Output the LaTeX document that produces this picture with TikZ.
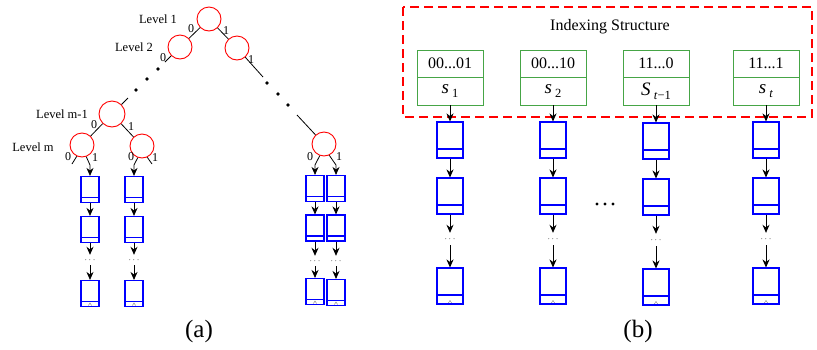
\documentclass[tikz,border=0pt]{standalone}
\usepackage{fontspec}
\setmainfont{Liberation Serif}
\usetikzlibrary{arrows.meta,positioning}
\definecolor{keygreen}{RGB}{70,165,70}
\newcommand{\slot}[2]{\textit{#1}\,\raisebox{-0.45ex}{\fontsize{12.5}{12}\selectfont #2}}
\tikzset{
  trienode/.style={circle,draw=red,line width=0.9pt,minimum size=24pt,inner sep=0pt},
  levellabel/.style={inner sep=0pt,font=\fontsize{12.5}{14}\selectfont},
  bitlabel/.style={inner sep=0pt,font=\fontsize{12}{13}\selectfont},
  treeedge/.style={line width=0.8pt},
  arr/.style={line width=0.8pt,-{Stealth[length=8pt,width=7pt]}},
  boxdiv/.style={path picture={\draw[blue,line width=1.1pt]
      ([yshift=#1]path picture bounding box.south west) -- ([yshift=#1]path picture bounding box.south east);}},
  boxnull/.style={path picture={\draw[blue,line width=1.1pt]
      ([yshift=#1]path picture bounding box.south west) -- ([yshift=#1]path picture bounding box.south east);
      \draw[gray,line width=0.4pt] ([shift={(-1.6pt,1pt)}]path picture bounding box.south)
      -- ([shift={(0pt,3.6pt)}]path picture bounding box.south) -- ([shift={(1.6pt,1pt)}]path picture bounding box.south);}},
  smallbox/.style={draw=blue,line width=1.1pt,minimum width=18pt,minimum height=26pt,inner sep=0pt,boxdiv=5pt},
  smallnull/.style={draw=blue,line width=1.1pt,minimum width=18pt,minimum height=26pt,inner sep=0pt,boxnull=5pt},
  bigbox/.style={draw=blue,line width=1.1pt,minimum width=26pt,minimum height=36pt,inner sep=0pt,boxdiv=9pt},
  bignull/.style={draw=blue,line width=1.1pt,minimum width=26pt,minimum height=36pt,inner sep=0pt,boxnull=9pt},
  dotsnode/.style={inner sep=0pt,minimum height=#1,font=\small},
  keybox/.style={draw=keygreen,line width=1pt,minimum width=66pt,minimum height=27pt,inner sep=0pt,outer sep=0pt,
      font=\fontsize{16}{18}\selectfont},
  valbox/.style={draw=keygreen,line width=1pt,minimum width=66pt,minimum height=28pt,inner sep=0pt,outer sep=0pt,
      font=\fontsize{19}{21}\selectfont},
  indexframe/.style={draw=red,line width=2.4pt,dash pattern=on 9pt off 5pt},
  caption/.style={inner sep=0pt,font=\fontsize{25}{28}\selectfont}
}
\begin{document}
\begin{tikzpicture}[x=1pt,y=-1pt]
\useasboundingbox (0,0) rectangle (817,349);

% Drawing the trie nodes
\node[trienode] (root) at (209,19) {};
\node[trienode] (l2a) at (180,47) {};
\node[trienode] (l2b) at (237,48) {};
\node[trienode,minimum size=26pt] (lm1) at (112,114) {};
\node[trienode] (lma) at (82,145) {};
\node[trienode] (lmb) at (142,146) {};
\node[trienode] (rc) at (324,144) {};

% Marking the levels
\node[levellabel] (lev1) at (158,19) {Level 1};
\node[levellabel] (lev2) at (134,47) {Level 2};
\node[levellabel] (levm1) at (62,114) {Level m-1};
\node[levellabel] (levm) at (33,147) {Level m};

% Drawing the trie edges
\coordinate (l2astub) at (165,62);
\coordinate (l2bstub) at (263,77);
\coordinate (lm1stub) at (128,98);
\coordinate (rcstub) at (297,115);
\draw[treeedge] (root) -- (l2a);
\draw[treeedge] (root) -- (l2b);
\draw[treeedge] (l2a) -- (l2astub);
\draw[treeedge] (l2b) -- (l2bstub);
\draw[treeedge] (lm1stub) -- (lm1);
\draw[treeedge] (rcstub) -- (rc);
\draw[treeedge] (lm1) -- (lma);
\draw[treeedge] (lm1) -- (lmb);

% Drawing the skipped levels
\fill (158,69) circle (1.8pt);
\fill (147,79) circle (1.8pt);
\fill (136,90) circle (1.8pt);
\fill (267,83) circle (1.8pt);
\fill (278,94) circle (1.8pt);
\fill (288,105) circle (1.8pt);

% Marking the branch bits
\node[bitlabel] (b0root) at (191,29) {0};
\node[bitlabel] (b1root) at (226,31) {1};
\node[bitlabel] (b0l2a) at (163,58) {0};
\node[bitlabel] (b1l2b) at (251,60) {1};
\node[bitlabel] (b0lm1) at (94,125) {0};
\node[bitlabel] (b1lm1) at (131,127) {1};
\node[bitlabel] (b0lma) at (68,157) {0};
\node[bitlabel] (b1lma) at (95,158) {1};
\node[bitlabel] (b0lmb) at (131,157) {0};
\node[bitlabel] (b1lmb) at (155,158) {1};
\node[bitlabel] (b0rc) at (310,157) {0};
\node[bitlabel] (b1rc) at (339,157) {1};

% Drawing the lists under the leaves
\node[smallbox] (a1) at (90,189.5) {};
\node[smallbox] (a2) at (90,229.5) {};
\node[dotsnode=10pt] (ad) at (90,260) {$\cdots$};
\node[smallnull] (a3) at (90,293.5) {};
\node[smallbox] (b1) at (134,189.5) {};
\node[smallbox] (b2) at (134,229.5) {};
\node[dotsnode=10pt] (bd) at (134,260) {$\cdots$};
\node[smallnull] (b3) at (134,293.5) {};
\node[smallbox] (c1) at (315,188.5) {};
\node[smallbox] (c2) at (315,228) {};
\node[dotsnode=10pt] (cd) at (315,261) {$\cdots$};
\node[smallnull] (c3) at (315,291.5) {};
\node[smallbox] (d1) at (336,188.5) {};
\node[smallbox] (d2) at (336,228) {};
\node[dotsnode=10pt] (dd) at (336,261) {$\cdots$};
\node[smallnull] (d3) at (336,292.5) {};

% Drawing the leaf branches
\coordinate (lmastub) at (72,164);
\coordinate (lmbstub) at (152,164);
\coordinate (lmajoin) at (90,165);
\coordinate (lmbjoin) at (134,165);
\coordinate (rcjoina) at (315,165);
\coordinate (rcjoinb) at (336,165);
\draw[treeedge] (lma.-115) -- (lmastub);
\draw[treeedge] (lmb.-65) -- (lmbstub);
\draw[arr] (lma.-70) -- (lmajoin) -- (a1.north);
\draw[arr] (lmb.-110) -- (lmbjoin) -- (b1.north);
\draw[arr] (rc.-110) -- (rcjoina) -- (c1.north);
\draw[arr] (rc.-65) -- (rcjoinb) -- (d1.north);

% Drawing the list pointers
\draw[arr] (a1.south) -- (a2.north);
\draw[arr] (a2.south) -- (ad.north);
\draw[arr] (ad.south) -- (a3.north);
\draw[arr] (b1.south) -- (b2.north);
\draw[arr] (b2.south) -- (bd.north);
\draw[arr] (bd.south) -- (b3.north);
\draw[arr] (c1.south) -- (c2.north);
\draw[arr] (c2.south) -- (cd.north);
\draw[arr] (cd.south) -- (c3.north);
\draw[arr] (d1.south) -- (d2.north);
\draw[arr] (d2.south) -- (dd.north);
\draw[arr] (dd.south) -- (d3.north);

% Marking caption a
\node[caption] (capa) at (199,331) {(a)};

% Drawing the indexing structure
\draw[indexframe] (403,7) rectangle (812,117);
\node[inner sep=0pt,font=\fontsize{16}{18}\selectfont] (title) at (610,27) {Indexing Structure};

% Drawing the index entries
\node[keybox] (k1) at (450,63.5) {00...01};
\node[valbox,below=0pt of k1] (v1) {\slot{s}{1}};
\node[keybox] (k2) at (553,63.5) {00...10};
\node[valbox,below=0pt of k2] (v2) {\slot{s}{2}};
\node[keybox] (k3) at (656,63.5) {11...0};
\node[valbox,below=0pt of k3] (v3) {\slot{S}{\textit{t}−1}};
\node[keybox] (k4) at (766,63.5) {11...1};
\node[valbox,below=0pt of k4] (v4) {\slot{s}{\textit{t}}};

% Drawing the indexed lists
\node[bigbox] (p1) at (450,140) {};
\node[bigbox] (q1) at (450,196) {};
\node[dotsnode=12pt] (r1) at (450,239) {$\cdots$};
\node[bignull] (u1) at (450,286) {};
\node[bigbox] (p2) at (553,140) {};
\node[bigbox] (q2) at (553,196) {};
\node[dotsnode=12pt] (r2) at (553,239) {$\cdots$};
\node[bignull] (u2) at (553,286) {};
\node[bigbox] (p3) at (656,141) {};
\node[bigbox] (q3) at (656,197) {};
\node[dotsnode=12pt] (r3) at (656,240) {$\cdots$};
\node[bignull] (u3) at (656,287) {};
\node[bigbox] (p4) at (766,140) {};
\node[bigbox] (q4) at (766,196) {};
\node[dotsnode=12pt] (r4) at (766,239) {$\cdots$};
\node[bignull] (u4) at (766,286) {};

% Drawing the index pointers
\draw[arr] (v1.south) -- (p1.north);
\draw[arr] (p1.south) -- (q1.north);
\draw[arr] (q1.south) -- (r1.north);
\draw[arr] (r1.south) -- (u1.north);
\draw[arr] (v2.south) -- (p2.north);
\draw[arr] (p2.south) -- (q2.north);
\draw[arr] (q2.south) -- (r2.north);
\draw[arr] (r2.south) -- (u2.north);
\draw[arr] (v3.south) -- (p3.north);
\draw[arr] (p3.south) -- (q3.north);
\draw[arr] (q3.south) -- (r3.north);
\draw[arr] (r3.south) -- (u3.north);
\draw[arr] (v4.south) -- (p4.north);
\draw[arr] (p4.south) -- (q4.north);
\draw[arr] (q4.south) -- (r4.north);
\draw[arr] (r4.south) -- (u4.north);

% Drawing the skipped columns
\fill (597,204) circle (1.7pt);
\fill (605,204) circle (1.7pt);
\fill (613,204) circle (1.7pt);

% Marking caption b
\node[caption] (capb) at (638,331) {(b)};
\end{tikzpicture}
\end{document}
